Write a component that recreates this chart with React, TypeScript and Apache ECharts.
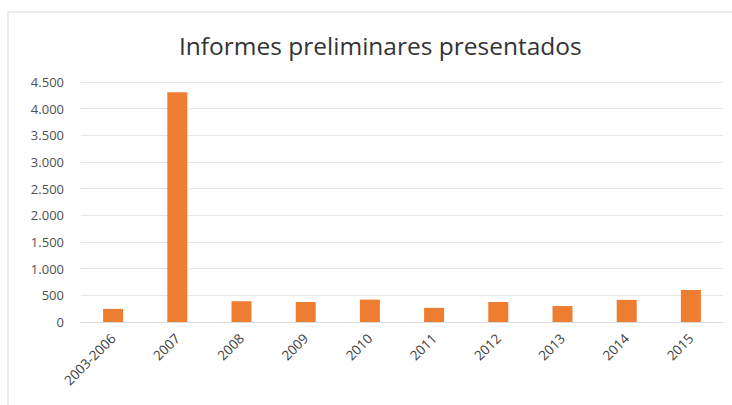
import React, { useEffect, useRef } from "react";
import * as echarts from "echarts";

const title = "Informes preliminares presentados";
const categories = ["2003-2006", "2007", "2008", "2009", "2010", "2011", "2012", "2013", "2014", "2015"];
const values = [245, 4310, 390, 375, 420, 265, 375, 300, 415, 600];

export default function App() {
  const ref = useRef<HTMLDivElement>(null);
  useEffect(() => {
    if (!ref.current) return;
    const chart = echarts.init(ref.current, undefined, { renderer: "svg" });
    chart.setOption({
      animation: false,
      backgroundColor: "#ffffff",
      title: {
        text: title,
        left: 174,
        top: 28,
        textStyle: { fontFamily: "Open Sans", fontSize: 24.5, fontWeight: "normal", color: "#333333" },
      },
      graphic: [
        {
          type: "rect",
          shape: { x: 8, y: 12, width: 740, height: 410 },
          style: { fill: "none", stroke: "#d9d9d9", lineWidth: 1 },
          silent: true,
        },
      ],
      grid: { left: 81, right: 9, top: 82, bottom: 83 },
      xAxis: {
        type: "category",
        data: categories,
        axisLine: { show: true, lineStyle: { color: "#d9d9d9" } },
        axisTick: { show: false },
        axisLabel: {
          rotate: 45,
          interval: 0,
          color: "#404040",
          fontFamily: "Open Sans",
          fontSize: 13.5,
          margin: 14,
        },
      },
      yAxis: {
        type: "value",
        min: 0,
        max: 4500,
        interval: 500,
        axisLine: { show: false },
        axisTick: { show: false },
        splitLine: { lineStyle: { color: "#e6e6e6" } },
        axisLabel: {
          color: "#505050",
          fontFamily: "Open Sans",
          fontSize: 13,
          margin: 17,
          formatter: (v: number) => v.toLocaleString("de-DE"),
        },
      },
      series: [
        {
          type: "bar",
          data: values,
          barWidth: 20,
          itemStyle: { color: "#ED7D31" },
        },
      ],
    });
    return () => chart.dispose();
  }, []);
  return <div ref={ref} style={{ position: "fixed", left: 0, top: 0, width: 732, height: 405 }} />;
}
